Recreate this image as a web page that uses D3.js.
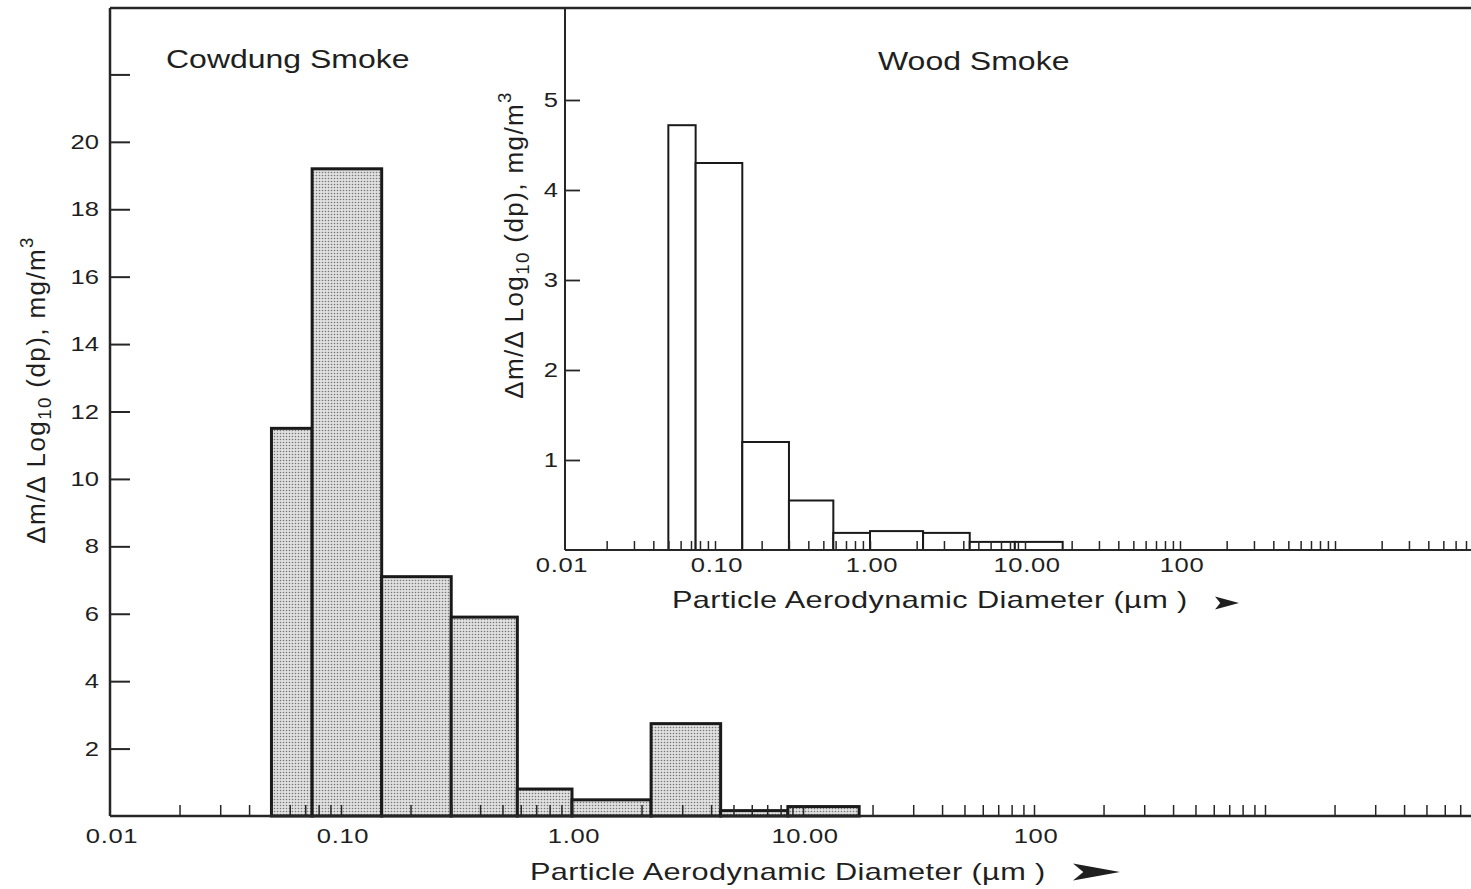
<!DOCTYPE html>
<html>
<head>
<meta charset="utf-8">
<script src="https://cdn.jsdelivr.net/npm/d3@7"></script>
<style>
  html, body { margin: 0; padding: 0; background: #fff; }
  text { font-family: "Liberation Sans", Arial, sans-serif; fill: #1f1f1f; }
</style>
</head>
<body>
<div id="graph"></div>
<script>
// --------------------------------------
//  Data
// --------------------------------------

// impactor stage boundaries (µm), shared by both panels
const edges = [0.05, 0.075, 0.15, 0.3, 0.58, 1.0, 2.2, 4.4, 8.6, 17.5];

const cowdungValues = [11.5, 19.2, 7.1, 5.9, 0.8, 0.48, 2.74, 0.16, 0.28];
const woodValues = [4.72, 4.3, 1.2, 0.55, 0.19, 0.21, 0.19, 0.09, 0.09];

const cowdungYTicks = [2, 4, 6, 8, 10, 12, 14, 16, 18, 20, 22];
const cowdungYLabels = [2, 4, 6, 8, 10, 12, 14, 16, 18, 20];
const woodYTicks = [1, 2, 3, 4, 5];

const xLabelValues = [0.01, 0.1, 1, 10, 100];
const xLabelText = ["0.01", "0.10", "1.00", "10.00", "100"];

const xTitle = "Particle Aerodynamic Diameter (\u00b5m )";

// --------------------------------------
//  Canvas
// --------------------------------------

const W = 1471, H = 889;
const stretch = 1.28; // the printed lettering is wide

const svg = d3.select("#graph")
  .append("svg")
  .attr("width", W)
  .attr("height", H);

const defs = svg.append("defs");
const pat = defs.append("pattern")
  .attr("id", "stipple")
  .attr("width", 3)
  .attr("height", 3)
  .attr("patternUnits", "userSpaceOnUse");
pat.append("rect").attr("width", 3).attr("height", 3).attr("fill", "#e0e0e0");
pat.append("circle").attr("cx", 1.5).attr("cy", 1.5).attr("r", 0.8).attr("fill", "#777");

const frameTop = 8;

// --------------------------------------
//  Scales
// --------------------------------------

const xMain = d3.scaleLog().domain([0.01, 100]).range([110, 1034]);
const yMain = d3.scaleLinear().domain([0, 24]).range([816, 7]);

const insetLeft = 565;
const xInset = d3.scaleLog().domain([0.01, 100]).range([560, 1180]);
const yInset = d3.scaleLinear().domain([0, 6]).range([550, 10]);

const bins = (vals) => vals.map((v, i) => ({ lo: edges[i], hi: edges[i + 1], v: v }));

// --------------------------------------
//  Helpers
// --------------------------------------

function label(g, x, y, txt, size, anchor, spacing) {
  return g.append("text")
    .attr("transform", `translate(${x},${y}) scale(${stretch},1)`)
    .attr("text-anchor", anchor || "start")
    .attr("font-size", size)
    .attr("letter-spacing", spacing || 0)
    .text(txt);
}

function yTitle(g, x, yc, size) {
  const t = g.append("text")
    .attr("transform", `translate(${x},${yc}) rotate(-90)`)
    .attr("text-anchor", "middle")
    .attr("font-size", size)
    .attr("letter-spacing", 1.4);
  t.append("tspan").text("\u0394m/\u0394 Log");
  t.append("tspan").attr("font-size", size * 0.72).attr("dy", 6).text("10");
  t.append("tspan").attr("dy", -6).text(" (dp), mg/m");
  t.append("tspan").attr("font-size", size * 0.72).attr("dy", -12).text("3");
}

function arrow(g, x, y, len, half) {
  g.append("path")
    .attr("d", `M${x},${y - half} L${x + len},${y} L${x},${y + half} L${x + len * 0.22},${y} Z`)
    .attr("fill", "#1f1f1f");
}

function xTicks(g, scale, left, baseY, tickH) {
  const full = scale.copy()
    .domain([0.01, scale.invert(W)])
    .range([scale(0.01), W]);
  const vals = full.ticks(40).filter((d) => full(d) > left + 2 && full(d) < W - 1);
  g.append("g")
    .attr("transform", `translate(0,${baseY})`)
    .call(d3.axisBottom(full).tickValues(vals).tickSize(-tickH).tickFormat(""))
    .call((a) => a.select(".domain").remove())
    .selectAll("line")
    .attr("stroke", "#262626")
    .attr("stroke-width", 1.5);
}

// --------------------------------------
//  Main panel: Cowdung smoke
// --------------------------------------

const gm = svg.append("g");

gm.append("g")
  .selectAll("rect")
  .data(bins(cowdungValues))
  .join("rect")
  .attr("x", (d) => xMain(d.lo))
  .attr("y", (d) => yMain(d.v))
  .attr("width", (d) => xMain(d.hi) - xMain(d.lo))
  .attr("height", (d) => yMain(0) - yMain(d.v))
  .attr("fill", "url(#stipple)")
  .attr("stroke", "#1a1a1a")
  .attr("stroke-width", 3);

xTicks(gm, xMain, xMain(0.01), yMain(0), 11);

// frame lines
gm.append("line")
  .attr("x1", xMain(0.01)).attr("x2", W)
  .attr("y1", frameTop).attr("y2", frameTop)
  .attr("stroke", "#262626").attr("stroke-width", 2.5);
gm.append("line")
  .attr("x1", xMain(0.01)).attr("x2", xMain(0.01))
  .attr("y1", frameTop).attr("y2", yMain(0))
  .attr("stroke", "#262626").attr("stroke-width", 2.5);
gm.append("line")
  .attr("x1", xMain(0.01)).attr("x2", W)
  .attr("y1", yMain(0)).attr("y2", yMain(0))
  .attr("stroke", "#262626").attr("stroke-width", 2.5);

gm.append("g")
  .attr("transform", `translate(${xMain(0.01)},0)`)
  .call(d3.axisRight(yMain).tickValues(cowdungYTicks).tickSize(20).tickFormat(""))
  .call((a) => a.select(".domain").remove())
  .selectAll("line")
  .attr("stroke", "#262626")
  .attr("stroke-width", 2);

cowdungYLabels.forEach((d) => label(gm, xMain(0.01) - 11, yMain(d) + 7, d, 20, "end", 0));

xLabelValues.forEach((d, i) => label(gm, xMain(d) + 2, 843, xLabelText[i], 20, "middle", 0.5));

label(gm, 530, 880, xTitle, 24, "start", 0.3);
arrow(gm, 1073, 872, 47, 8.5);

label(gm, 166, 68, "Cowdung Smoke", 25, "start", 0);

yTitle(gm, 45, 390, 26);

// --------------------------------------
//  Inset panel: Wood smoke
// --------------------------------------

const gi = svg.append("g");

gi.append("g")
  .selectAll("rect")
  .data(bins(woodValues))
  .join("rect")
  .attr("x", (d) => xInset(d.lo))
  .attr("y", (d) => yInset(d.v))
  .attr("width", (d) => xInset(d.hi) - xInset(d.lo))
  .attr("height", (d) => yInset(0) - yInset(d.v))
  .attr("fill", "#fff")
  .attr("stroke", "#1a1a1a")
  .attr("stroke-width", 2);

xTicks(gi, xInset, insetLeft, yInset(0), 9);

gi.append("line")
  .attr("x1", insetLeft).attr("x2", insetLeft)
  .attr("y1", frameTop).attr("y2", yInset(0))
  .attr("stroke", "#262626").attr("stroke-width", 2);
gi.append("line")
  .attr("x1", insetLeft).attr("x2", W)
  .attr("y1", yInset(0)).attr("y2", yInset(0))
  .attr("stroke", "#262626").attr("stroke-width", 2);

gi.append("g")
  .attr("transform", `translate(${insetLeft},0)`)
  .call(d3.axisRight(yInset).tickValues(woodYTicks).tickSize(15).tickFormat(""))
  .call((a) => a.select(".domain").remove())
  .selectAll("line")
  .attr("stroke", "#262626")
  .attr("stroke-width", 1.8);

woodYTicks.forEach((d) => label(gi, insetLeft - 7, yInset(d) + 7, d, 20, "end", 0));

xLabelValues.forEach((d, i) => label(gi, xInset(d) + 2, 572, xLabelText[i], 20, "middle", 0.5));

label(gi, 672, 608, xTitle, 24, "start", 0.3);
arrow(gi, 1215, 603, 24, 6.5);

label(gi, 878, 70, "Wood Smoke", 25, "start", 0);

yTitle(gi, 523, 245, 26);
</script>
</body>
</html>
